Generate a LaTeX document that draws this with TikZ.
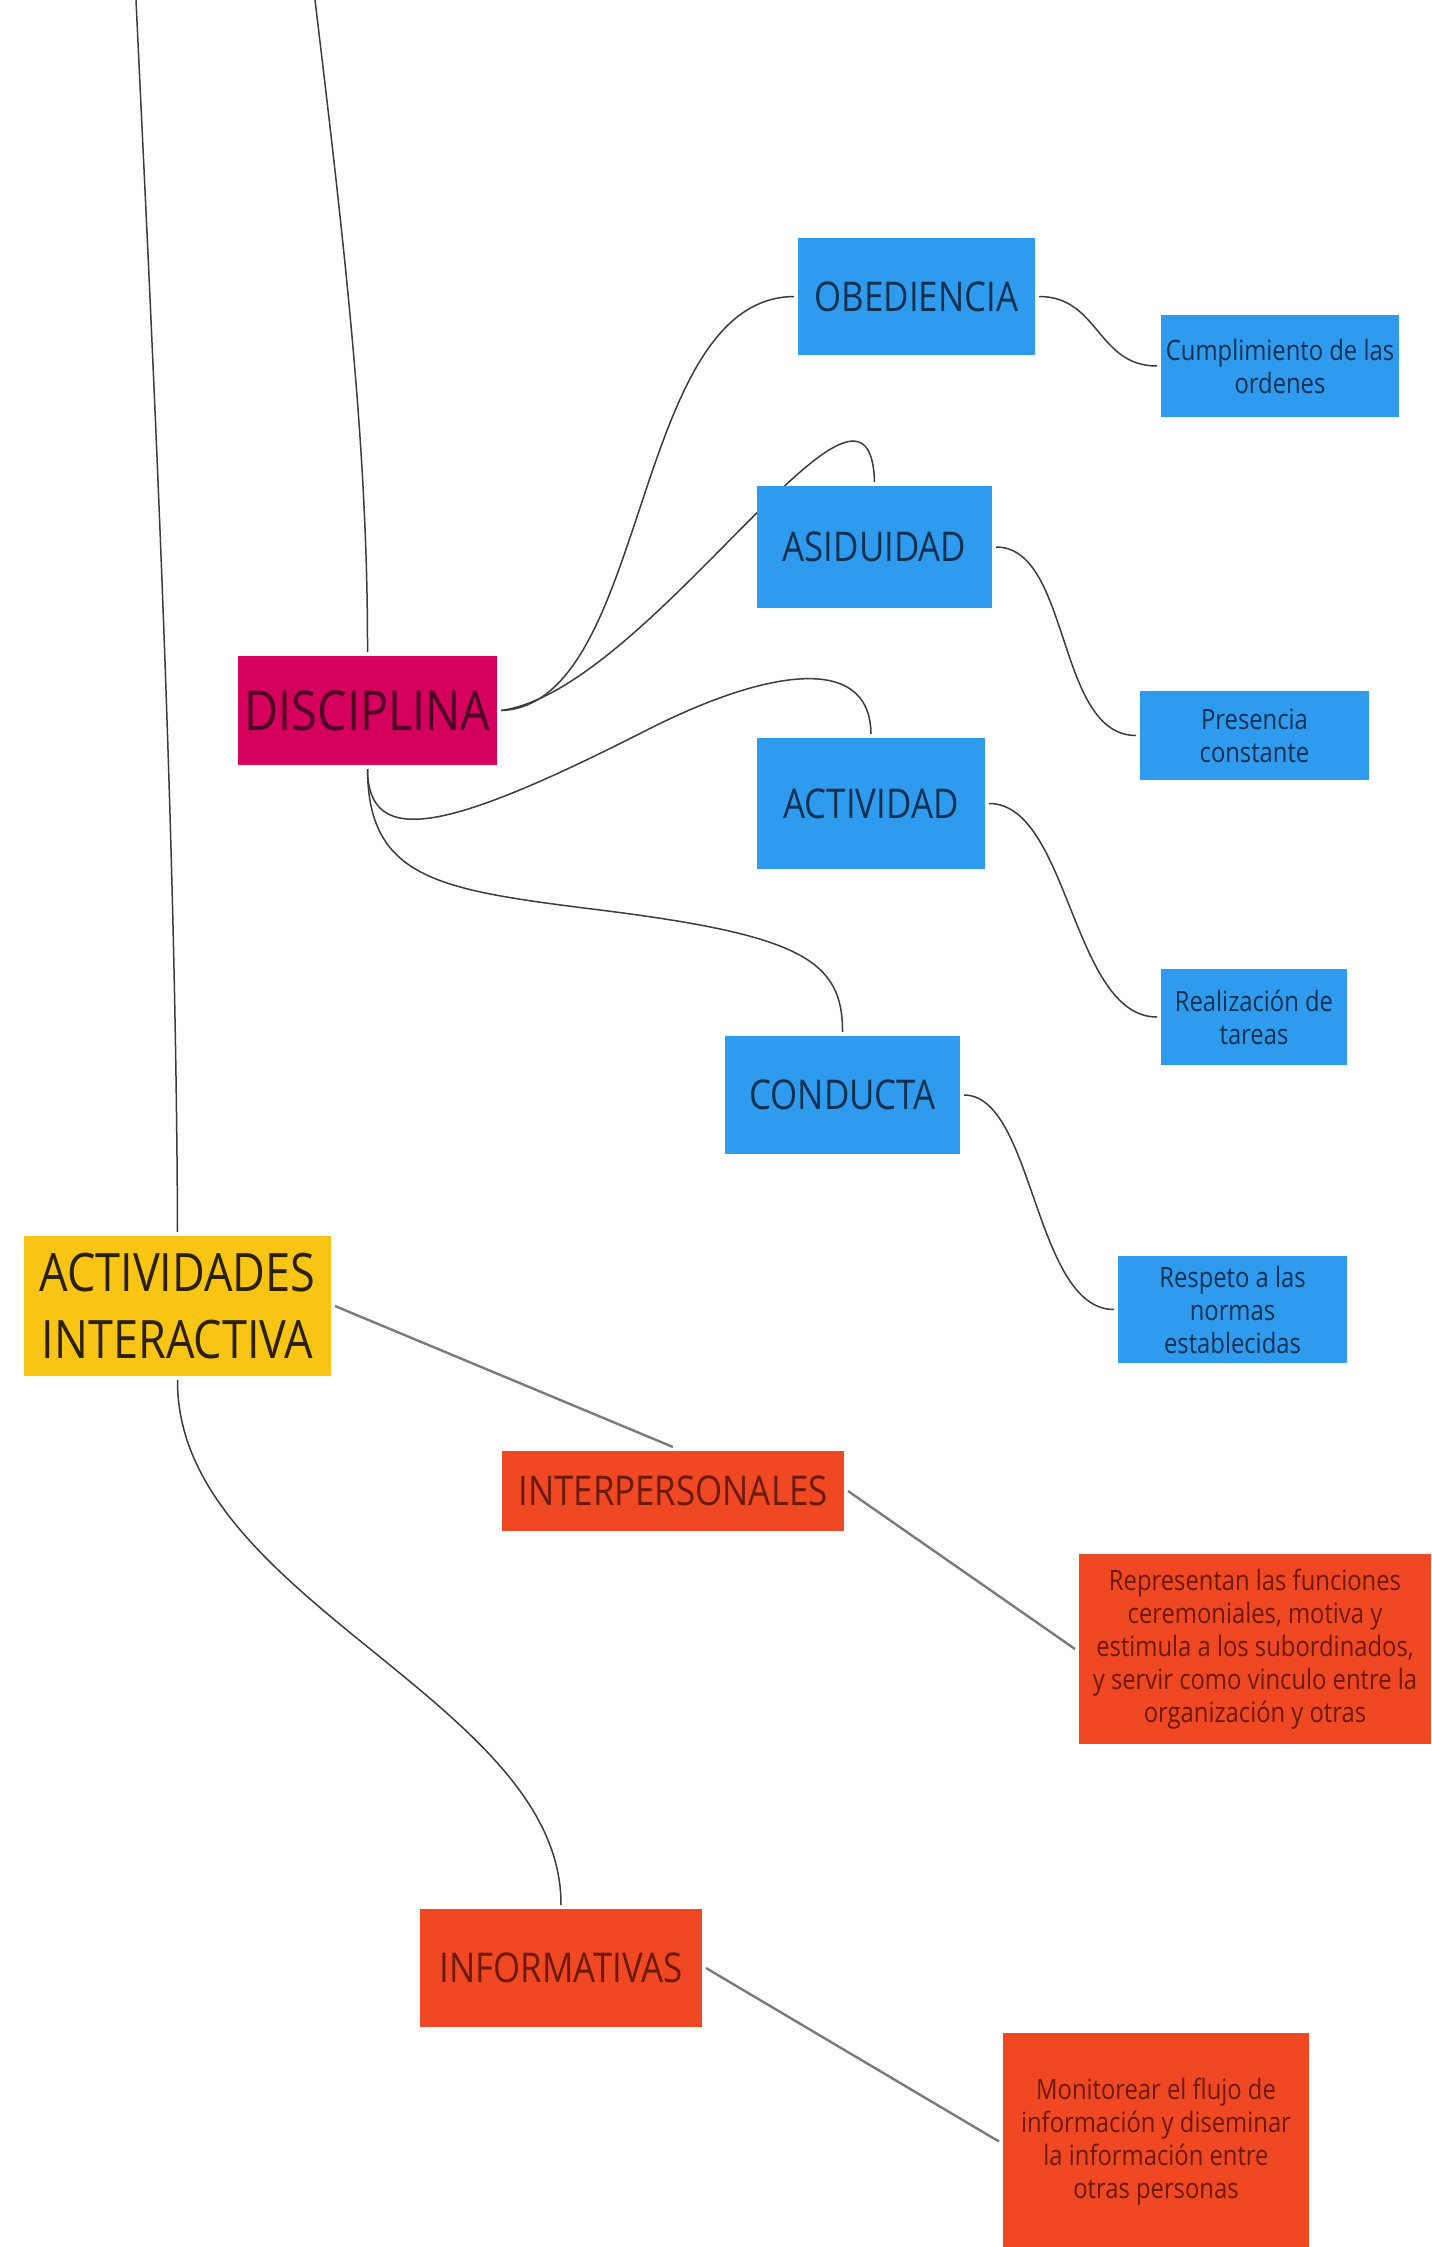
\documentclass[tikz,border=0pt]{standalone}
\usepackage{fontspec}
\usepackage{xcolor}
\usepackage{tikz}
\usetikzlibrary{backgrounds}
\newfontfamily\mapfont[FakeStretch=0.85]{Open Sans}
\definecolor{topicblue}{HTML}{2F9BEF}
\definecolor{bluetext}{HTML}{13304F}
\definecolor{discred}{HTML}{D5005E}
\definecolor{disctext}{HTML}{4B0022}
\definecolor{rootyellow}{HTML}{F9C514}
\definecolor{roottext}{HTML}{2B2100}
\definecolor{rolered}{HTML}{F04823}
\definecolor{roletext}{HTML}{6B1A0A}
\definecolor{curvegray}{HTML}{3C3C3C}
\definecolor{stemgray}{HTML}{7A7A7A}

\begin{document}
\begin{tikzpicture}[x=1pt,y=-1pt,
    box/.style={rectangle,inner sep=0pt,outer sep=4pt,align=center},
    topic/.style={box,fill=topicblue,text=bluetext,font=\mapfont\fontsize{41}{50}\selectfont},
    detail/.style={box,fill=topicblue,text=bluetext,font=\mapfont\fontsize{28}{33}\selectfont},
    role/.style={box,fill=rolered,text=roletext,font=\mapfont\fontsize{41}{50}\selectfont},
    roledetail/.style={box,fill=rolered,text=roletext,font=\mapfont\fontsize{28}{33}\selectfont},
    curve/.style={draw=curvegray,line width=1.5pt},
    stem/.style={draw=stemgray,line width=2.4pt}]
    \useasboundingbox (0,0) rectangle (1432,2247);

    \coordinate (topA) at (136,0);
    \coordinate (topB) at (315,0);

    \node[box,fill=rootyellow,text=roottext,font=\mapfont\fontsize{53}{67}\selectfont,minimum width=307,minimum height=140] (actint) at (177.5,1306) {ACTIVIDADES\\INTERACTIVA};
    \node[box,fill=discred,text=disctext,font=\mapfont\fontsize{55}{66}\selectfont,minimum width=259,minimum height=109] (disc) at (367.5,710.5) {DISCIPLINA};

    \node[topic,minimum width=237,minimum height=117] (obed) at (916.5,296.5) {OBEDIENCIA};
    \node[topic,minimum width=235,minimum height=122] (asid) at (874.5,547) {ASIDUIDAD};
    \node[topic,minimum width=228,minimum height=131] (activ) at (871,803.5) {ACTIVIDAD};
    \node[topic,minimum width=235,minimum height=118] (cond) at (842.5,1095) {CONDUCTA};

    \node[detail,minimum width=238,minimum height=102] (cumpl) at (1280,366) {Cumplimiento de las\\ordenes};
    \node[detail,minimum width=229,minimum height=89] (pres) at (1254.5,735.5) {Presencia\\constante};
    \node[detail,minimum width=186,minimum height=96] (realiz) at (1254,1017) {Realización de\\tareas};
    \node[detail,minimum width=229,minimum height=107] (resp) at (1232.5,1309.5) {Respeto a las\\normas\\establecidas};

    \node[role,minimum width=342,minimum height=80] (interp) at (673,1491) {INTERPERSONALES};
    \node[roledetail,minimum width=352,minimum height=190] (repres) at (1255,1649) {Representan las funciones\\ceremoniales, motiva y\\estimula a los subordinados,\\y servir como vinculo entre la\\organización y otras};
    \node[role,minimum width=282,minimum height=118] (inform) at (561,1968) {INFORMATIVAS};
    \node[roledetail,minimum width=306,minimum height=217] (monit) at (1156,2141.5) {Monitorear el flujo de\\información y diseminar\\la información entre\\otras personas};

    \begin{pgfonlayer}{background}
    \draw[curve] (topA) .. controls (150,300) and (176,800) .. (actint.north);
    \draw[curve] (topB) .. controls (345,250) and (368,450) .. (disc.north);
    \draw[curve] (disc.east) .. controls (650,705) and (630,298) .. (obed.west);
    \draw[curve] (disc.east) .. controls (650,690) and (870,320) .. (asid.north);
    \draw[curve] (disc.south) .. controls (368,850) and (450,830) .. (645,731) .. controls (760,672) and (870,650) .. (activ.north);
    \draw[curve] (disc.south) .. controls (368,880) and (440,890) .. (600,910) .. controls (800,935) and (843,960) .. (cond.north);
    \draw[curve] (obed.east) .. controls +(60,0) and +(-60,0) .. (cumpl.west);
    \draw[curve] (asid.east) .. controls +(75,0) and +(-80,0) .. (pres.west);
    \draw[curve] (activ.east) .. controls +(80,0) and +(-85,0) .. (realiz.west);
    \draw[curve] (cond.east) .. controls +(70,0) and +(-80,0) .. (resp.west);
    \draw[stem] (actint.east) -- (interp.north);
    \draw[stem] (interp.east) -- (repres.west);
    \draw[curve] (actint.south) .. controls (176,1600) and (562,1700) .. (inform.north);
    \draw[stem] (inform.east) -- (monit.west);
    \end{pgfonlayer}
\end{tikzpicture}
\end{document}
